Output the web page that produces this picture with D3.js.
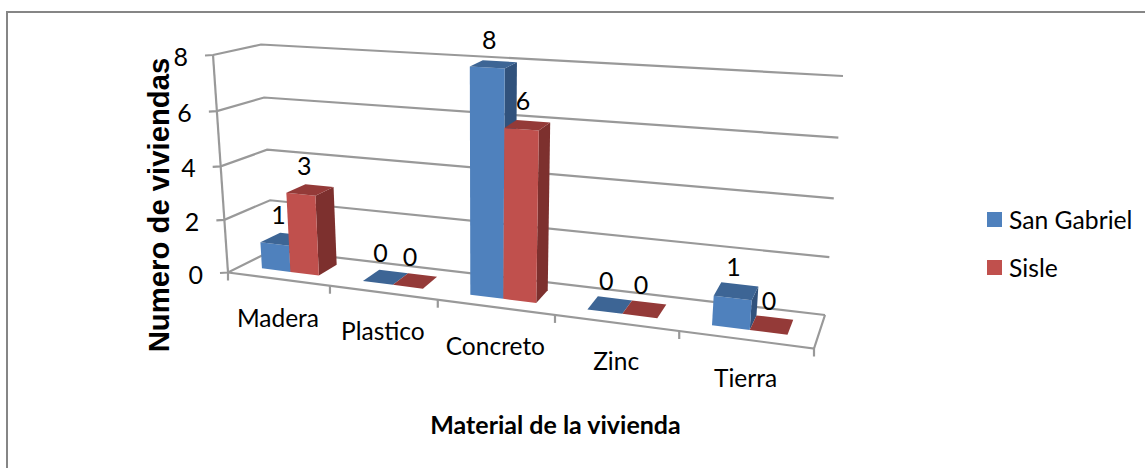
<!DOCTYPE html>
<html>
<head>
<meta charset="utf-8">
<script src="https://cdnjs.cloudflare.com/ajax/libs/d3/7.8.5/d3.min.js"></script>
<style>
  html, body { margin: 0; padding: 0; background: #fff; }
  svg { display: block; }
  text { font-family: Lato, "Open Sans", sans-serif; fill: #000; }
</style>
</head>
<body>
<svg id="chart" width="1145" height="468"></svg>
<script>
// Chart values
const categories = ["Madera", "Plastico", "Concreto", "Zinc", "Tierra"];
const sanGabriel = [1, 0, 8, 0, 1];
const sisle = [3, 0, 6, 0, 0];
const seriesNames = ["San Gabriel", "Sisle"];
const yTicks = [0, 2, 4, 6, 8];

// Face colours per series: front, top, side
const shades = [
  { front: "#4f81bd", top: "#3d6595", side: "#31527c" },
  { front: "#c0504d", top: "#943a38", side: "#7d302e" }
];

// Corners of the chart box in screen space, [floor, ceiling] for value 0 and 8
const corners = {
  frontLeft:  [[228, 272.5], [213, 55]],
  frontRight: [[814, 348.5], [835, 94]],
  backLeft:   [[273, 250], [261, 44.5]],
  backRight:  [[825, 315], [843, 76]]
};

// Perspective foreshortening along the category axis and the value axis
const uFront = d3.scaleLinear().domain([0, 1, 2, 3, 4, 5]).range([0, 0.174, 0.358, 0.558, 0.770, 1]);
const uBack = d3.scaleLinear().domain([0, 1, 2, 3, 4, 5]).range([0, 0.172, 0.352, 0.555, 0.770, 1]);
const vScale = d3.scaleLinear().domain(yTicks).range([0, 0.242, 0.488, 0.742, 1]);

const mix = (a, b, t) => a + (b - a) * t;
const mixPt = (a, b, t) => [mix(a[0], b[0], t), mix(a[1], b[1], t)];

// Project (category position, value, depth 0..1) to screen coordinates
function project(x, value, z) {
  const u = mix(uFront(x), uBack(x), z);
  const v = vScale(value);
  const at = c => mixPt(c[0], c[1], v);
  return mixPt(
    mixPt(at(corners.frontLeft), at(corners.frontRight), u),
    mixPt(at(corners.backLeft), at(corners.backRight), u),
    z
  );
}

const svg = d3.select("#chart");
const GRID = "#999999";
const line = d3.line();
const closed = pts => line(pts) + "Z";

// Outer chart frame
svg.append("path")
  .attr("d", line([[7, 468], [7, 12], [1145, 12]]))
  .attr("fill", "none").attr("stroke", "#868686").attr("stroke-width", 2);

// Side wall and back wall gridlines
const grid = svg.append("g").attr("fill", "none").attr("stroke", GRID).attr("stroke-width", 2.2);
grid.selectAll("path.grid").data(yTicks).join("path")
  .attr("class", "grid")
  .attr("d", t => line([
    [project(0, t, 0)[0] - 8, project(0, t, 0)[1] + 0.5],
    project(0, t, 0), project(0, t, 1), project(5, t, 1)
  ]));

// Value axis and floor edges
grid.append("path").attr("d", line([project(0, 0, 0), project(0, 8, 0)]));
grid.append("path").attr("d", line([project(0, 0, 0), project(5, 0, 0), project(5, 0, 1)]));

// Category tick marks below the front floor edge
grid.selectAll("path.tick").data(d3.range(categories.length + 1)).join("path")
  .attr("class", "tick")
  .attr("d", i => {
    const p = project(i, 0, 0);
    return line([p, [p[0], p[1] + 8]]);
  });

// Bar footprint inside each category slot and its depth range
const barX0 = 0.205, barW = 0.285, barZ0 = 0.3, barZ1 = 0.75;

const bars = [];
categories.forEach((c, i) => {
  [sanGabriel[i], sisle[i]].forEach((value, s) => {
    bars.push({ i, s, value, x0: i + barX0 + s * barW, x1: i + barX0 + (s + 1) * barW });
  });
});

// Blue before red within a slot, so a taller red bar hides the blue side face
const barG = svg.selectAll("g.bar").data(bars).join("g").attr("class", "bar");
barG.append("path")
  .attr("fill", d => shades[d.s].side)
  .attr("d", d => closed([
    project(d.x1, 0, barZ0), project(d.x1, 0, barZ1),
    project(d.x1, d.value, barZ1), project(d.x1, d.value, barZ0)
  ]));
barG.append("path")
  .attr("fill", d => shades[d.s].front)
  .attr("d", d => closed([
    project(d.x0, 0, barZ0), project(d.x1, 0, barZ0),
    project(d.x1, d.value, barZ0), project(d.x0, d.value, barZ0)
  ]));
barG.append("path")
  .attr("fill", d => shades[d.s].top)
  .attr("d", d => closed([
    project(d.x0, d.value, barZ0), project(d.x1, d.value, barZ0),
    project(d.x1, d.value, barZ1), project(d.x0, d.value, barZ1)
  ]));

// Value labels above each bar
const labelShift = d3.scaleLinear().domain([0, 5]).range([-6, -2]);
svg.selectAll("text.value").data(bars).join("text")
  .attr("class", "value")
  .attr("text-anchor", "middle")
  .attr("dominant-baseline", "central")
  .attr("font-size", 25)
  .attr("x", d => project((d.x0 + d.x1) / 2, d.value, (barZ0 + barZ1) / 2)[0] + labelShift(d.i))
  .attr("y", d => project((d.x0 + d.x1) / 2, d.value, (barZ0 + barZ1) / 2)[1] - 25)
  .text(d => d.value);

// Value axis labels
svg.selectAll("text.ytick").data(yTicks).join("text")
  .attr("class", "ytick")
  .attr("text-anchor", "end")
  .attr("dominant-baseline", "central")
  .attr("font-size", 25)
  .attr("x", t => project(0, t, 0)[0] - 25)
  .attr("y", t => project(0, t, 0)[1] + 1)
  .text(t => t);

// Category labels hang a fixed distance below the front edge
const labelDrop = 38;
svg.selectAll("text.cat").data(categories).join("text")
  .attr("class", "cat")
  .attr("text-anchor", "middle")
  .attr("dominant-baseline", "central")
  .attr("font-size", 24.5)
  .attr("x", (c, i) => project(i + 0.5, 0, 0)[0] - 1)
  .attr("y", (c, i) => project(i + 0.5, 0, 0)[1] + labelDrop)
  .text(c => c);

// Axis titles
svg.append("text")
  .attr("transform", "translate(158.5,205) rotate(-90)")
  .attr("text-anchor", "middle")
  .attr("dominant-baseline", "central")
  .style("font-family", "'Liberation Sans', Arial, sans-serif")
  .style("font-weight", "bold")
  .attr("font-size", 29.3)
  .text("Numero de viviendas");
svg.append("text")
  .attr("x", 555.5).attr("y", 424)
  .attr("text-anchor", "middle")
  .attr("dominant-baseline", "central")
  .style("font-weight", "bold")
  .attr("font-size", 25)
  .text("Material de la vivienda");

// Legend
const legend = svg.selectAll("g.legend").data(seriesNames).join("g")
  .attr("class", "legend")
  .attr("transform", (d, i) => `translate(987,${212 + i * 48})`);
legend.append("rect")
  .attr("width", 15).attr("height", 15)
  .attr("fill", (d, i) => shades[i].front);
legend.append("text")
  .attr("x", 22).attr("y", 7)
  .attr("dominant-baseline", "central")
  .attr("font-size", 24.7)
  .text(d => d);
</script>
</body>
</html>
